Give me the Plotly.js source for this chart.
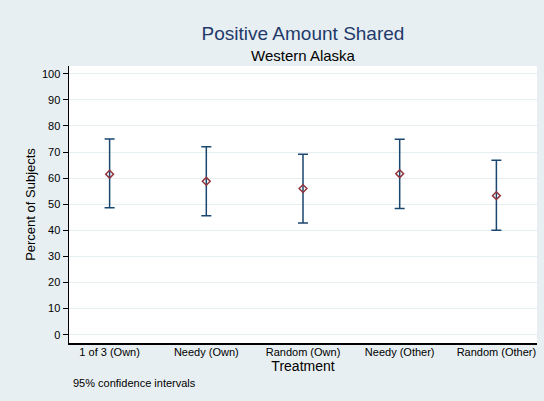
<!DOCTYPE html>
<html>
<head>
<meta charset="utf-8">
<script src="https://cdn.plot.ly/plotly-3.0.1.min.js"></script>
<style>html,body{margin:0;padding:0;background:#e8eff2;}</style>
</head>
<body>
<div id="chart" style="width:544px;height:401px;"></div>
<script>
var categories = ["1 of 3 (Own)", "Needy (Own)", "Random (Own)", "Needy (Other)", "Random (Other)"];
var means = [61.5, 58.8, 56.0, 61.7, 53.3];
var lowerCI = [48.7, 45.6, 42.8, 48.4, 40.0];
var upperCI = [75.0, 72.0, 69.2, 74.9, 66.9];
var yTicks = [0, 10, 20, 30, 40, 50, 60, 70, 80, 90, 100];

var xs = categories.map(function(c, i){ return i; });
var plus = upperCI.map(function(u, i){ return u - means[i]; });
var minus = lowerCI.map(function(l, i){ return means[i] - l; });

var trace = {
  x: xs, y: means, type: 'scatter', mode: 'markers',
  marker: {symbol: 'diamond-open', size: 6, color: '#90353b', line: {width: 1.5, color: '#90353b'}},
  error_y: {type: 'data', symmetric: false, array: plus, arrayminus: minus,
            color: '#1a476f', thickness: 1.5, width: 5},
  hoverinfo: 'skip'
};

var layout = {
  width: 544, height: 401,
  paper_bgcolor: '#e8eff2', plot_bgcolor: '#ffffff',
  margin: {l: 69, r: 7, t: 66, b: 58},
  showlegend: false,
  font: {family: 'Liberation Sans, Arial, sans-serif', color: '#000000'},
  title: {text: 'Positive Amount Shared', x: 0.557, xanchor: 'center', y: 0.918, yanchor: 'middle',
          font: {size: 19, color: '#1f3a6a', family: 'Liberation Sans, Arial, sans-serif'}},
  xaxis: {
    range: [-0.42, 4.42], tickmode: 'array', tickvals: xs, ticktext: categories,
    showgrid: false, zeroline: false, showline: true, linecolor: '#000000', linewidth: 1.5,
    ticks: '', tickfont: {size: 11}, fixedrange: true, ticklabelstandoff: -2,
    title: {text: 'Treatment', font: {size: 14}, standoff: 0}
  },
  yaxis: {
    range: [-3.2, 103], tickmode: 'array', tickvals: yTicks, ticktext: yTicks.map(String),
    showgrid: true, gridcolor: '#e6eef1', gridwidth: 1, zeroline: false,
    showline: true, linecolor: '#000000', linewidth: 1.5,
    ticks: 'outside', ticklen: 5, tickcolor: '#000000', tickfont: {size: 11}, fixedrange: true,
    title: {text: 'Percent of Subjects', font: {size: 13}, standoff: 3}
  },
  annotations: [
    {text: 'Western Alaska', xref: 'paper', yref: 'paper', x: 0.5, y: 1.0, yshift: 11, xanchor: 'center', yanchor: 'middle',
     showarrow: false, font: {size: 15, color: '#000000'}},
    {text: '95% confidence intervals', xref: 'paper', yref: 'paper', x: 0, xshift: 2, y: 0, yshift: -40, xanchor: 'left', yanchor: 'middle',
     showarrow: false, font: {size: 11, color: '#000000'}}
  ]
};

Plotly.newPlot('chart', [trace], layout, {displayModeBar: false, staticPlot: true});
</script>
</body>
</html>
